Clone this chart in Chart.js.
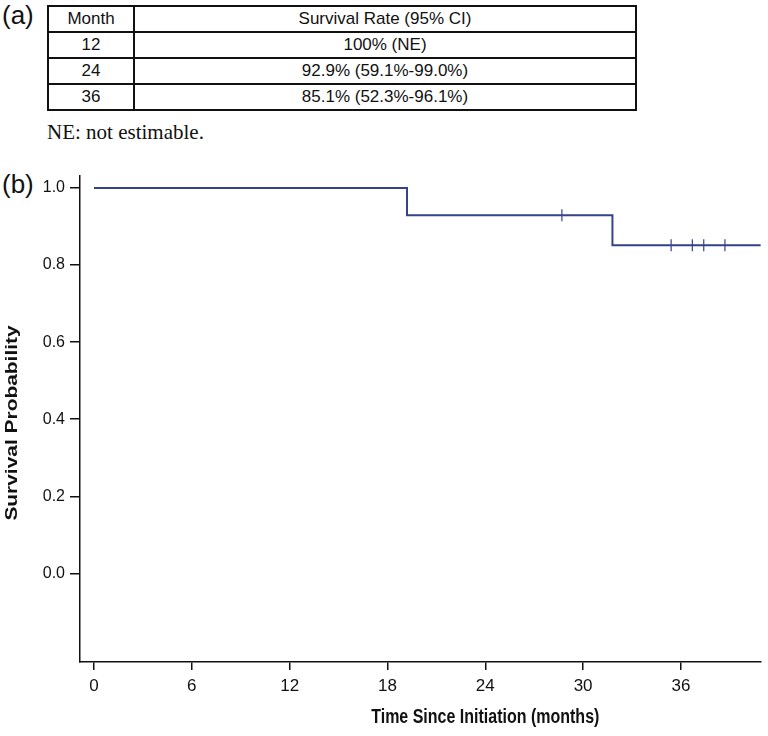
<!DOCTYPE html>
<html>
<head>
<meta charset="utf-8">
<script src="https://cdn.jsdelivr.net/npm/chart.js@4.4.0/dist/chart.umd.min.js"></script>
<style>
  html, body { margin: 0; padding: 0; background: #fff; }
  body { width: 768px; height: 736px; position: relative; overflow: hidden; font-family: "Liberation Sans", Arial, sans-serif; }
  .panel { position: absolute; left: 2px; font-size: 26px; color: #111; }
  #rates { position: absolute; left: 47px; top: 5px; width: 590px; border-collapse: collapse; font-family: "Liberation Sans", Arial, sans-serif; font-size: 17px; color: #111; }
  #rates td { border: 2px solid #111; height: 24px; padding: 0; text-align: center; line-height: 24px; }
  #rates td:first-child { width: 84px; }
  .note { position: absolute; left: 47px; top: 120px; font-family: "Liberation Serif", "Times New Roman", serif; font-size: 21px; color: #111; }
  #wrap { position: absolute; left: 0; top: 160px; width: 768px; height: 576px; }
</style>
</head>
<body>
<div class="panel" style="top:0px">(a)</div>
<table id="rates"></table>
<div class="note">NE: not estimable.</div>
<div class="panel" style="top:169px">(b)</div>
<div id="wrap"><canvas id="kmChart"></canvas></div>

<script>
// ===== DATA =====
const tableMonths = ['12', '24', '36'];
const tableRates  = ['100% (NE)', '92.9% (59.1%-99.0%)', '85.1% (52.3%-96.1%)'];

const eventTimes  = [0, 19.2, 31.8, 40.9];       // months (curve runs to last follow-up)
const survival    = [1.0, 0.929, 0.851, 0.851];
const censorTimes = [28.7, 35.4, 36.7, 37.4, 38.7];
const censorSurv  = [0.929, 0.851, 0.851, 0.851, 0.851];

const xTicks = [0, 6, 12, 18, 24, 30, 36];
const yTicks = [0.0, 0.2, 0.4, 0.6, 0.8, 1.0];

const xTitle = 'Time Since Initiation (months)';
const yTitle = 'Survival Probability';

// ===== TABLE =====
const tbl = document.getElementById('rates');
tbl.innerHTML = '<tr><td>Month</td><td>Survival Rate (95% CI)</td></tr>' +
  tableMonths.map((m, i) => `<tr><td>${m}</td><td>${tableRates[i]}</td></tr>`).join('');

// ===== CHART =====
const lineColor = '#34428a';
const axisFont = "'Liberation Sans', Arial, sans-serif";

// axis titles: the original has them squeezed / stretched, so draw them by hand
const axisTitles = {
  id: 'axisTitles',
  afterDraw(chart) {
    const { ctx, scales: { x, y } } = chart;
    ctx.save();
    ctx.fillStyle = '#111';
    ctx.textAlign = 'center';
    ctx.textBaseline = 'middle';

    ctx.save();
    ctx.font = "bold 20px " + axisFont;
    ctx.translate(x.getPixelForValue(24), x.bottom - 19);
    ctx.scale(0.8, 1);
    ctx.fillText(xTitle, 0, 0);
    ctx.restore();

    ctx.save();
    ctx.font = "bold 17px " + axisFont;
    ctx.translate(12.5, (y.top + y.bottom) / 2 + 4);
    ctx.rotate(-Math.PI / 2);
    ctx.scale(1.23, 1);
    ctx.fillText(yTitle, 0, 0);
    ctx.restore();

    ctx.restore();
  }
};

new Chart(document.getElementById('kmChart'), {
  type: 'scatter',
  data: {
    datasets: [
      {
        label: 'KM',
        data: eventTimes.map((t, i) => ({ x: t, y: survival[i] })),
        showLine: true,
        stepped: true,
        borderColor: lineColor,
        borderWidth: 2,
        pointRadius: 0
      },
      {
        label: 'Censored',
        data: censorTimes.map((t, i) => ({ x: t, y: censorSurv[i] })),
        pointStyle: 'line',
        rotation: 90,
        radius: 6,
        borderColor: lineColor,
        borderWidth: 1.2
      }
    ]
  },
  plugins: [axisTitles],
  options: {
    responsive: true,
    maintainAspectRatio: false,
    animation: false,
    layout: { padding: { top: 16, right: 0, left: 0, bottom: 0 } },
    plugins: { legend: { display: false }, tooltip: { enabled: false } },
    scales: {
      x: {
        type: 'linear',
        min: -0.86,
        max: 40.9,
        afterBuildTicks: s => { s.ticks = xTicks.map(v => ({ value: v })); },
        afterFit: s => { s.height = 74; },
        border: { display: true, color: '#111', width: 1.5 },
        grid: { drawOnChartArea: false, drawTicks: true, tickLength: 8, color: '#111', lineWidth: 1.5 },
        ticks: { color: '#111', padding: 6, maxRotation: 0, font: { family: axisFont, size: 17 } }
      },
      y: {
        min: -0.23,
        max: 1.031,
        afterBuildTicks: s => { s.ticks = yTicks.map(v => ({ value: v })); },
        afterFit: s => { s.width = 80; },
        border: { display: true, color: '#111', width: 1.5 },
        grid: { drawOnChartArea: false, drawTicks: true, tickLength: 10, color: '#111', lineWidth: 1.5 },
        ticks: { color: '#111', padding: 5, callback: v => v.toFixed(1), font: { family: axisFont, size: 16 } }
      }
    }
  }
});
</script>
</body>
</html>
